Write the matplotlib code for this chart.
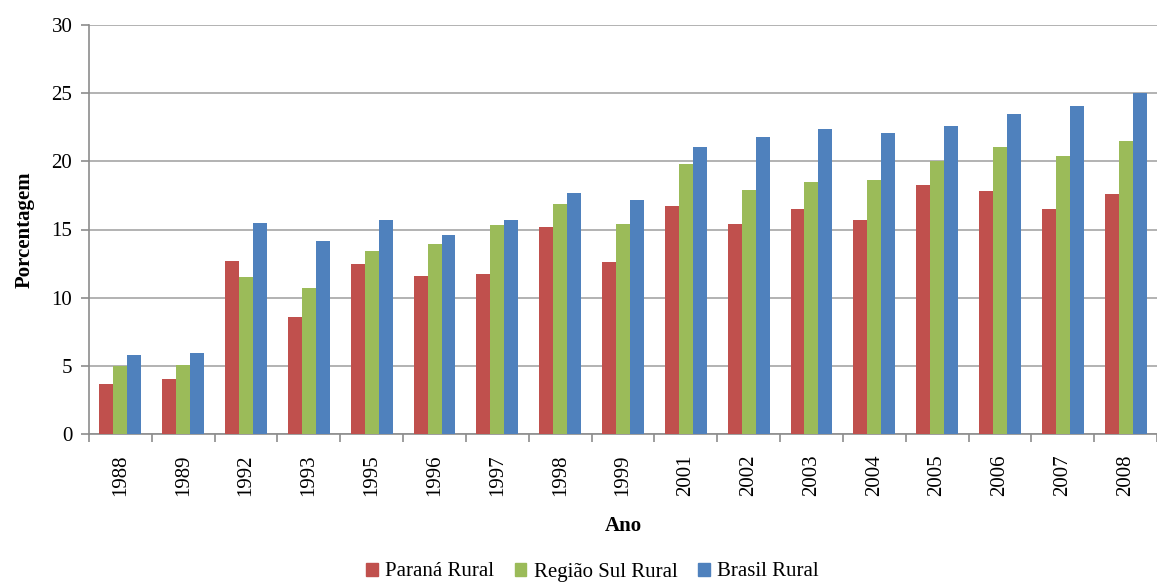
import matplotlib
matplotlib.use("Agg")
import matplotlib.pyplot as plt
import numpy as np
from matplotlib.patches import Patch

anos = ["1988", "1989", "1992", "1993", "1995", "1996", "1997", "1998", "1999",
        "2001", "2002", "2003", "2004", "2005", "2006", "2007", "2008"]
parana_rural = [3.7, 4.0, 12.7, 8.6, 12.5, 11.6, 11.7, 15.2, 12.6,
                16.7, 15.4, 16.5, 15.7, 18.3, 17.8, 16.5, 17.6]
regiao_sul_rural = [5.0, 5.05, 11.5, 10.7, 13.4, 13.9, 15.3, 16.9, 15.4,
                    19.8, 17.9, 18.5, 18.6, 20.0, 21.05, 20.4, 21.5]
brasil_rural = [5.8, 5.95, 15.5, 14.15, 15.7, 14.6, 15.7, 17.7, 17.2,
                21.05, 21.8, 22.4, 22.05, 22.6, 23.5, 24.05, 25.0]

series = [("Paraná Rural", parana_rural, "#C0504D"),
          ("Região Sul Rural", regiao_sul_rural, "#9BBB59"),
          ("Brasil Rural", brasil_rural, "#4F81BD")]

plt.rcParams['font.family'] = ['Liberation Serif', 'DejaVu Serif']

fig = plt.figure(figsize=(11.57, 5.83), dpi=100)
ax = fig.add_axes([89/1157, 149/583, 1 - 89/1157, (434-25)/583])

x = np.arange(len(anos))
w = 0.222
for i, (name, vals, col) in enumerate(series):
    ax.bar(x + (i - 1) * w, vals, width=w, color=col, label=name, zorder=3)

ax.set_xlim(-0.5, len(anos) - 0.5)
ax.set_ylim(0, 30)
ax.set_yticks(range(0, 31, 5))
ax.yaxis.grid(True, color="#A6A6A6", linewidth=1.2, zorder=0)
ax.set_axisbelow(True)

ax.set_xticks(x)
ax.set_xticklabels(anos, rotation=90, fontsize=15)
ax.tick_params(axis='x', length=0, pad=15)
ax.set_xticks(np.arange(-0.5, len(anos), 1), minor=True)
ax.tick_params(axis='x', which='minor', length=6, color="#8C8C8C", width=1.2)
ax.tick_params(axis='y', labelsize=15, length=6, color="#8C8C8C", width=1.2, pad=6)

for s in ["top", "right"]:
    ax.spines[s].set_visible(False)
for s in ["left", "bottom"]:
    ax.spines[s].set_color("#8C8C8C")
    ax.spines[s].set_linewidth(1.2)

ax.set_ylabel("Porcentagem", fontsize=15, fontweight="bold", labelpad=12)
ax.set_xlabel("Ano", fontsize=15, fontweight="bold", labelpad=14)

handles = [Patch(color=c, label=n) for n, _, c in series]
fig.legend(handles=handles, loc="center", bbox_to_anchor=(0.512, 11/583),
           ncol=3, frameon=False, fontsize=15, handlelength=0.55, handleheight=0.6,
           handletextpad=0.35, columnspacing=1.0)

fig.savefig("out.png", dpi=100)
